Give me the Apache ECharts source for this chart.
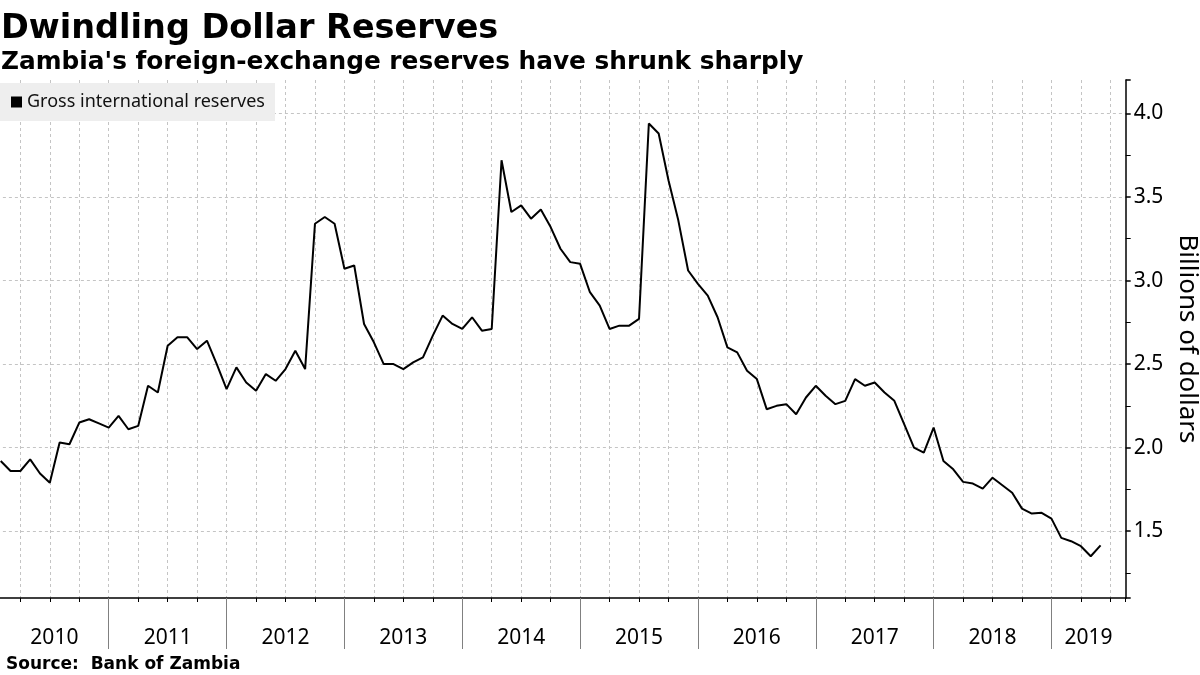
<!DOCTYPE html>
<html><head><meta charset="utf-8">
<script src="https://cdn.jsdelivr.net/npm/echarts@6/dist/echarts.min.js"></script>
<style>html,body{margin:0;padding:0;background:#fff}#c{width:1200px;height:675px}</style>
</head><body><div id="c"></div>
<script>
// ---- data (billions of US dollars, month-end) ----
const years = [2010, 2011, 2012, 2013, 2014, 2015, 2016, 2017, 2018, 2019];
const monthNames = ['Jan','Feb','Mar','Apr','May','Jun','Jul','Aug','Sep','Oct','Nov','Dec'];
const reserves = [
  // 2010
  1.92, 1.86, 1.86, 1.93, 1.845, 1.79, 2.03, 2.02, 2.15, 2.17, 2.145, 2.12,
  // 2011
  2.19, 2.11, 2.13, 2.37, 2.33, 2.61, 2.66, 2.66, 2.59, 2.64, 2.50, 2.35,
  // 2012
  2.48, 2.39, 2.34, 2.44, 2.40, 2.47, 2.58, 2.47, 3.34, 3.38, 3.34, 3.07,
  // 2013
  3.09, 2.74, 2.63, 2.50, 2.50, 2.47, 2.51, 2.54, 2.67, 2.79, 2.74, 2.71,
  // 2014
  2.78, 2.70, 2.71, 3.72, 3.41, 3.45, 3.37, 3.425, 3.32, 3.19, 3.11, 3.10,
  // 2015
  2.93, 2.85, 2.71, 2.73, 2.73, 2.77, 3.94, 3.88, 3.60, 3.36, 3.06, 2.98,
  // 2016
  2.91, 2.78, 2.60, 2.57, 2.46, 2.41, 2.23, 2.25, 2.26, 2.20, 2.30, 2.37,
  // 2017
  2.31, 2.26, 2.28, 2.41, 2.37, 2.39, 2.33, 2.28, 2.14, 2.00, 1.97, 2.12,
  // 2018
  1.92, 1.87, 1.795, 1.785, 1.755, 1.82, 1.775, 1.73, 1.635, 1.605, 1.61, 1.575,
  // 2019
  1.46, 1.44, 1.41, 1.35, 1.415
];
const yTicks = [1.5, 2.0, 2.5, 3.0, 3.5, 4.0];

// month labels (categories)
const months = [];
years.forEach(y => monthNames.forEach(m => months.push(m + ' ' + y)));
months.length = reserves.length;

// axis in "months since Jan 2010"; each value sits at its month end
const X_MIN = 0, X_MAX = 115.56, X_VIS = 0.93;
const seriesData = reserves.map((v, i) => [i + 1, v]);
const yearBounds = years.slice(1).map((y, i) => (i + 1) * 12).filter(v => v < X_MAX);
const yearCenters = years.map((y, i) => {
  const a = Math.max(i * 12, X_VIS), b = Math.min((i + 1) * 12, X_MAX);
  return (a + b) / 2;
});

const chart = echarts.init(document.getElementById('c'), null, {renderer: 'canvas'});
const FONT = 'Noto Sans';
chart.setOption({
  animation: false,
  backgroundColor: '#ffffff',
  title: [{
    text: 'Dwindling Dollar Reserves',
    subtext: "Zambia's foreign-exchange reserves have shrunk sharply",
    left: 0, top: 0, padding: [12, 0, 0, 1], itemGap: 4,
    textStyle: {fontFamily: 'DejaVu Sans', fontWeight: 'bold', fontSize: 33.5, color: '#000'},
    subtextStyle: {fontFamily: 'DejaVu Sans', fontWeight: 'bold', fontSize: 24.8, color: '#000'}
  }, {
    text: 'Source:  Bank of Zambia',
    left: 6, top: 656, padding: 0,
    textStyle: {fontFamily: 'DejaVu Sans', fontWeight: 'bold', fontSize: 17, color: '#000'}
  }],
  legend: {
    data: ['Gross international reserves'],
    left: 0, top: 83, padding: [10, 10, 10, 11],
    backgroundColor: '#eeeeee',
    icon: 'rect', itemWidth: 11, itemHeight: 11, itemGap: 5,
    textStyle: {fontFamily: FONT, fontSize: 18, color: '#111'},
    selectedMode: false
  },
  grid: {left: -9.1, right: 74.3, top: 80, bottom: 77, outerBoundsMode: 'none', containLabel: false},
  xAxis: [{
    type: 'value', min: X_MIN, max: X_MAX, interval: 3, position: 'bottom',
    axisLine: {show: true, onZero: false, lineStyle: {color: '#000', width: 1.5}},
    axisTick: {show: true, length: 4, lineStyle: {color: '#000', width: 1}},
    axisLabel: {show: false},
    splitLine: {show: true, showMaxLine: false, lineStyle: {color: '#c4c4c4', type: [3, 3], width: 1}}
  }, {
    type: 'value', min: X_MIN, max: X_MAX, position: 'bottom',
    axisLine: {show: false, onZero: false},
    axisTick: {show: true, customValues: yearBounds, length: 51, lineStyle: {color: '#808080', width: 1}},
    axisLabel: {show: true, customValues: yearCenters, margin: 30,
      fontFamily: FONT, fontSize: 21, color: '#000',
      formatter: v => String(years[Math.floor(v / 12)])},
    splitLine: {show: false}
  }],
  yAxis: {
    type: 'value', position: 'right', min: 1.1, max: 4.2, splitNumber: 5,
    name: 'Billions of dollars', nameLocation: 'middle', nameRotate: -90, nameGap: 46,
    nameTextStyle: {fontFamily: FONT, fontSize: 26, color: '#000'},
    axisLine: {show: true, onZero: false, lineStyle: {color: '#000', width: 1.5}},
    axisTick: {show: true, length: 5, lineStyle: {color: '#000', width: 1.5}},
    minorTick: {show: true, splitNumber: 2, length: 5, lineStyle: {color: '#000', width: 1}},
    axisLabel: {margin: 8, fontFamily: FONT, fontSize: 21, color: '#000',
      showMinLabel: false, showMaxLabel: false,
      formatter: v => yTicks.some(t => Math.abs(t - v) < 1e-6) ? v.toFixed(1) : ''},
    splitLine: {show: true, showMinLine: false, showMaxLine: false,
      lineStyle: {color: '#c4c4c4', type: [3, 3], width: 1}}
  },
  series: [{
    name: 'Gross international reserves',
    type: 'line', xAxisIndex: 0, yAxisIndex: 0,
    data: seriesData, symbol: 'none', clip: true,
    lineStyle: {color: '#000', width: 2}, itemStyle: {color: '#000'}
  }]
});
</script></body></html>
